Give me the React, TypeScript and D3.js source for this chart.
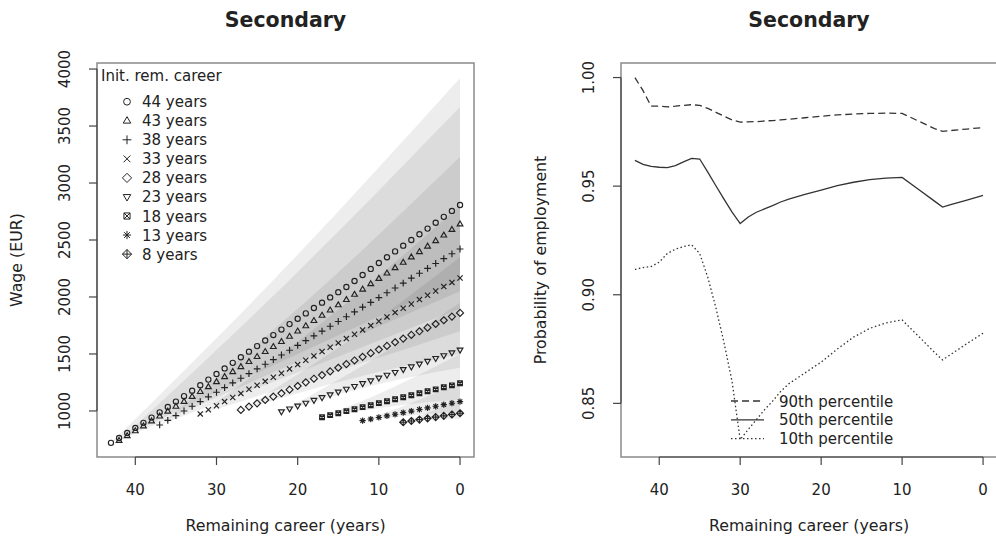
import React from 'react';
import * as d3 from 'd3';

// ---------- Left panel data: mean wage paths (values listed from first year down to 0) ----------
const cohortLabels = ['44 years', '43 years', '38 years', '33 years', '28 years', '23 years', '18 years', '13 years', '8 years'];
const cohortStart = [43, 42, 37, 32, 27, 22, 17, 12, 7];
const cohortPch = [1, 2, 3, 4, 5, 6, 7, 8, 9];

const wage44 = [720, 763, 807, 851, 896, 942, 988, 1035, 1082, 1130, 1178, 1226, 1275, 1324, 1373, 1422, 1471, 1520, 1569, 1618, 1666, 1714, 1762, 1809, 1856, 1903, 1950, 1996, 2042, 2088, 2140, 2193, 2246, 2298, 2349, 2400, 2450, 2500, 2550, 2600, 2651, 2703, 2755, 2807];
const wage43 = [740, 782, 825, 868, 911, 954, 997, 1040, 1083, 1126, 1169, 1212, 1256, 1300, 1344, 1388, 1432, 1476, 1520, 1564, 1608, 1654, 1700, 1746, 1792, 1838, 1884, 1930, 1976, 2022, 2068, 2115, 2162, 2209, 2256, 2303, 2350, 2397, 2445, 2493, 2542, 2591, 2640];
const wage38 = [877, 918, 959, 1000, 1041, 1082, 1123, 1164, 1205, 1246, 1287, 1328, 1369, 1410, 1451, 1491, 1533, 1575, 1617, 1659, 1701, 1743, 1785, 1827, 1869, 1911, 1953, 1995, 2037, 2079, 2122, 2165, 2208, 2251, 2294, 2337, 2379, 2421];
const wage33 = [974, 1010, 1046, 1082, 1118, 1154, 1190, 1225, 1260, 1296, 1331, 1369, 1407, 1445, 1483, 1521, 1559, 1597, 1635, 1673, 1711, 1749, 1787, 1825, 1863, 1901, 1939, 1977, 2015, 2053, 2091, 2128, 2166];
const wage28 = [1009, 1038, 1067, 1096, 1126, 1155, 1187, 1219, 1251, 1283, 1315, 1347, 1379, 1411, 1443, 1475, 1507, 1539, 1571, 1603, 1635, 1667, 1699, 1731, 1763, 1796, 1828, 1860];
const wage23 = [994, 1019, 1044, 1069, 1094, 1118, 1143, 1167, 1192, 1216, 1241, 1266, 1290, 1315, 1339, 1364, 1388, 1413, 1437, 1462, 1486, 1511, 1535];
const wage18 = [945, 963, 980, 998, 1015, 1033, 1050, 1068, 1085, 1103, 1120, 1138, 1155, 1173, 1190, 1208, 1225, 1243];
const wage13 = [915, 929, 943, 957, 971, 985, 999, 1013, 1027, 1041, 1055, 1068, 1082];
const wage8 = [901, 912, 924, 935, 946, 957, 969, 980];
const wageSeries = [wage44, wage43, wage38, wage33, wage28, wage23, wage18, wage13, wage8];

// fan (dispersion band) of each cohort: start, middle year and end (year 0)
const fanMidYear = [21.5, 21, 18.5, 16, 13.5, 11, 8.5, 6, 3.5];
const fanUpperMid = [2260, 2150, 1990, 1830, 1630, 1440, 1200, 1070, 1000];
const fanUpperEnd = [3921, 3670, 3230, 2800, 2350, 1950, 1500, 1250, 1100];
const fanLowerMid = [1450, 1400, 1380, 1330, 1280, 1220, 1040, 960, 920];
const fanLowerEnd = [2150, 2050, 1900, 1700, 1500, 1380, 1100, 990, 930];

// ---------- Right panel data ----------
const empYears = [43, 42, 41, 40, 39, 38, 37, 36, 35, 34, 33, 32, 31, 30, 29, 28, 27, 26, 25, 24, 22, 20, 18, 16, 14, 12, 10, 8, 6, 5, 4, 2, 0];
const p90 = [1.0, 0.994, 0.9868, 0.9868, 0.9865, 0.9868, 0.9872, 0.9875, 0.9872, 0.9858, 0.984, 0.9822, 0.9805, 0.9795, 0.9796, 0.9797, 0.98, 0.9802, 0.9805, 0.9808, 0.9815, 0.9822, 0.9828, 0.9832, 0.9835, 0.9836, 0.9835, 0.98, 0.9765, 0.9752, 0.9756, 0.9763, 0.977];
const p50 = [0.9619, 0.96, 0.9591, 0.9587, 0.9585, 0.9595, 0.9612, 0.9628, 0.9625, 0.9565, 0.9502, 0.944, 0.938, 0.9328, 0.9358, 0.938, 0.9395, 0.941, 0.9427, 0.944, 0.9462, 0.9482, 0.9502, 0.9518, 0.953, 0.9537, 0.954, 0.9486, 0.9431, 0.9404, 0.9415, 0.9436, 0.9458];
const p10 = [0.9117, 0.9125, 0.913, 0.915, 0.919, 0.921, 0.9222, 0.923, 0.919, 0.908, 0.894, 0.878, 0.86, 0.8333, 0.838, 0.8425, 0.847, 0.851, 0.8555, 0.859, 0.864, 0.869, 0.875, 0.8805, 0.8845, 0.887, 0.8884, 0.881, 0.8735, 0.87, 0.8725, 0.8775, 0.8823];
const pctLabels = ['90th percentile', '50th percentile', '10th percentile'];
const pctDash = ['7,4', 'none', '1.5,2.5'];

// ---------- ticks ----------
const yearTicks = [40, 30, 20, 10, 0];
const wageTicks = [1000, 1500, 2000, 2500, 3000, 3500, 4000];
const probTicks = [0.85, 0.9, 0.95, 1.0];

const FONT = 'DejaVu Sans, Liberation Sans, sans-serif';
const INK = '#222';

function Marker({ pch, cx, cy, s, w = 1 }: { pch: number; cx: number; cy: number; s: number; w?: number }) {
  let d = '';
  const sq = s * 0.9;
  switch (pch) {
    case 1:
      return <circle cx={cx} cy={cy} r={s} fill="none" stroke={INK} strokeWidth={w} />;
    case 2:
      d = `M${cx},${cy - s * 1.2}L${cx + s * 1.1},${cy + s * 0.7}L${cx - s * 1.1},${cy + s * 0.7}Z`;
      break;
    case 3:
      d = `M${cx - s * 1.3},${cy}H${cx + s * 1.3}M${cx},${cy - s * 1.3}V${cy + s * 1.3}`;
      break;
    case 4:
      d = `M${cx - s},${cy - s}L${cx + s},${cy + s}M${cx - s},${cy + s}L${cx + s},${cy - s}`;
      break;
    case 5:
      d = `M${cx},${cy - s * 1.35}L${cx + s * 1.35},${cy}L${cx},${cy + s * 1.35}L${cx - s * 1.35},${cy}Z`;
      break;
    case 6:
      d = `M${cx},${cy + s * 1.2}L${cx + s * 1.1},${cy - s * 0.7}L${cx - s * 1.1},${cy - s * 0.7}Z`;
      break;
    case 7:
      d = `M${cx - sq},${cy - sq}H${cx + sq}V${cy + sq}H${cx - sq}ZM${cx - sq},${cy - sq}L${cx + sq},${cy + sq}M${cx - sq},${cy + sq}L${cx + sq},${cy - sq}`;
      break;
    case 8:
      d = `M${cx - s * 1.2},${cy}H${cx + s * 1.2}M${cx},${cy - s * 1.2}V${cy + s * 1.2}M${cx - s * 0.85},${cy - s * 0.85}L${cx + s * 0.85},${cy + s * 0.85}M${cx - s * 0.85},${cy + s * 0.85}L${cx + s * 0.85},${cy - s * 0.85}`;
      break;
    case 9:
      d = `M${cx},${cy - s * 1.35}L${cx + s * 1.35},${cy}L${cx},${cy + s * 1.35}L${cx - s * 1.35},${cy}ZM${cx - s * 1.35},${cy}H${cx + s * 1.35}M${cx},${cy - s * 1.35}V${cy + s * 1.35}`;
      break;
  }
  return <path d={d} fill="none" stroke={INK} strokeWidth={w} />;
}

export default function App() {
  const W = 996;
  const H = 541;
  const top = 63;
  const bottom = 457;

  const xL = d3.scaleLinear().domain([44.72, -1.72]).range([97, 474]);
  const yL = d3.scaleLinear().domain([596, 4053]).range([bottom, top]);
  const xR = d3.scaleLinear().domain([44.72, -1.72]).range([621, 997]);
  const yR = d3.scaleLinear().domain([0.8253, 1.0067]).range([bottom, top]);

  type FP = { yr: number; lo: number; hi: number };
  const fanArea = d3
    .area<FP>()
    .x((d) => xL(d.yr))
    .y0((d) => yL(d.lo))
    .y1((d) => yL(d.hi))
    .curve(d3.curveMonotoneX);

  const fans = cohortStart.map((s, i) => {
    const w0 = wageSeries[i][0];
    const pts: FP[] = [
      { yr: s, lo: w0, hi: w0 },
      { yr: fanMidYear[i], lo: fanLowerMid[i], hi: fanUpperMid[i] },
      { yr: 0, lo: fanLowerEnd[i], hi: fanUpperEnd[i] },
    ];
    return fanArea(pts) || '';
  });

  const line = d3
    .line<[number, number]>()
    .x((d) => xR(d[0]))
    .y((d) => yR(d[1]));
  const pctSeries = [p90, p50, p10];

  const fmt2 = d3.format('.2f');
  const boxStroke = '#8a8a8a';
  const axisStroke = '#444';
  const tick = 8;

  return (
    <svg
      width={W}
      height={H}
      viewBox={`0 0 ${W} ${H}`}
      style={{ position: 'absolute', left: 0, top: 0, display: 'block', background: '#fff' }}
      fontFamily={FONT}
    >
      <rect x={0} y={0} width={W} height={H} fill="#fff" />

      {/* ================= LEFT PANEL ================= */}
      <text x={285.5} y={27} textAnchor="middle" fontSize={20.5} fontWeight="bold" fill={INK}>
        Secondary
      </text>
      <g>
        {fans.map((d, i) => (
          <path key={i} d={d} fill="#000" fillOpacity={0.07} stroke="none" />
        ))}
      </g>
      <g>
        {wageSeries.map((vals, i) =>
          vals.map((v, j) => (
            <Marker key={`${i}-${j}`} pch={cohortPch[i]} cx={xL(cohortStart[i] - j)} cy={yL(v)} s={2.6} w={1.15} />
          ))
        )}
      </g>
      <rect x={97} y={top} width={474 - 97} height={bottom - top} fill="none" stroke={boxStroke} strokeWidth={1.5} />
      {/* x axis */}
      <line x1={xL(40)} x2={xL(0)} y1={bottom} y2={bottom} stroke={axisStroke} strokeWidth={1.2} />
      {yearTicks.map((t) => (
        <g key={t}>
          <line x1={xL(t)} x2={xL(t)} y1={bottom} y2={bottom + tick} stroke={axisStroke} strokeWidth={1.2} />
          <text x={xL(t)} y={495} textAnchor="middle" fontSize={15} fill={INK}>
            {t}
          </text>
        </g>
      ))}
      <text x={285.5} y={531} textAnchor="middle" fontSize={15.8} fill={INK}>
        Remaining career (years)
      </text>
      {/* y axis */}
      <line x1={97} x2={97} y1={yL(1000)} y2={yL(4000)} stroke={axisStroke} strokeWidth={1.2} />
      {wageTicks.map((t) => (
        <g key={t}>
          <line x1={97 - tick} x2={97} y1={yL(t)} y2={yL(t)} stroke={axisStroke} strokeWidth={1.2} />
          <text transform={`translate(70,${yL(t)}) rotate(-90)`} textAnchor="middle" fontSize={15} fill={INK}>
            {t}
          </text>
        </g>
      ))}
      <text transform={`translate(22,${(top + bottom) / 2}) rotate(-90)`} textAnchor="middle" fontSize={15.8} fill={INK}>
        Wage (EUR)
      </text>
      {/* legend */}
      <text x={101} y={81} fontSize={15} fill={INK}>
        Init. rem. career
      </text>
      {cohortLabels.map((lab, i) => {
        const cy = 101.7 + i * 19.05;
        return (
          <g key={lab}>
            <Marker pch={cohortPch[i]} cx={127} cy={cy} s={3.4} />
            <text x={142} y={cy + 5.5} fontSize={15} fill={INK}>
              {lab}
            </text>
          </g>
        );
      })}

      {/* ================= RIGHT PANEL ================= */}
      <text x={809} y={27} textAnchor="middle" fontSize={20.5} fontWeight="bold" fill={INK}>
        Secondary
      </text>
      {pctSeries.map((vals, i) => (
        <path
          key={i}
          d={line(empYears.map((yr, j) => [yr, vals[j]] as [number, number])) || ''}
          fill="none"
          stroke="#333"
          strokeWidth={1.3}
          strokeDasharray={pctDash[i]}
        />
      ))}
      <rect x={621} y={top} width={997 - 621} height={bottom - top} fill="none" stroke={boxStroke} strokeWidth={1.5} />
      <line x1={xR(40)} x2={xR(0)} y1={bottom} y2={bottom} stroke={axisStroke} strokeWidth={1.2} />
      {yearTicks.map((t) => (
        <g key={t}>
          <line x1={xR(t)} x2={xR(t)} y1={bottom} y2={bottom + tick} stroke={axisStroke} strokeWidth={1.2} />
          <text x={xR(t)} y={495} textAnchor="middle" fontSize={15} fill={INK}>
            {t}
          </text>
        </g>
      ))}
      <text x={809} y={531} textAnchor="middle" fontSize={15.8} fill={INK}>
        Remaining career (years)
      </text>
      <line x1={621} x2={621} y1={yR(0.85)} y2={yR(1.0)} stroke={axisStroke} strokeWidth={1.2} />
      {probTicks.map((t) => (
        <g key={t}>
          <line x1={621 - tick} x2={621} y1={yR(t)} y2={yR(t)} stroke={axisStroke} strokeWidth={1.2} />
          <text transform={`translate(594,${yR(t)}) rotate(-90)`} textAnchor="middle" fontSize={15} fill={INK}>
            {fmt2(t)}
          </text>
        </g>
      ))}
      <text transform={`translate(546,${(top + bottom) / 2}) rotate(-90)`} textAnchor="middle" fontSize={15.8} fill={INK}>
        Probability of employment
      </text>
      {pctLabels.map((lab, i) => {
        const cy = 401 + i * 18.85;
        return (
          <g key={lab}>
            <line x1={731} x2={764} y1={cy} y2={cy} stroke="#333" strokeWidth={1.3} strokeDasharray={pctDash[i]} />
            <text x={779} y={cy + 5.5} fontSize={15} fill={INK}>
              {lab}
            </text>
          </g>
        );
      })}
    </svg>
  );
}
